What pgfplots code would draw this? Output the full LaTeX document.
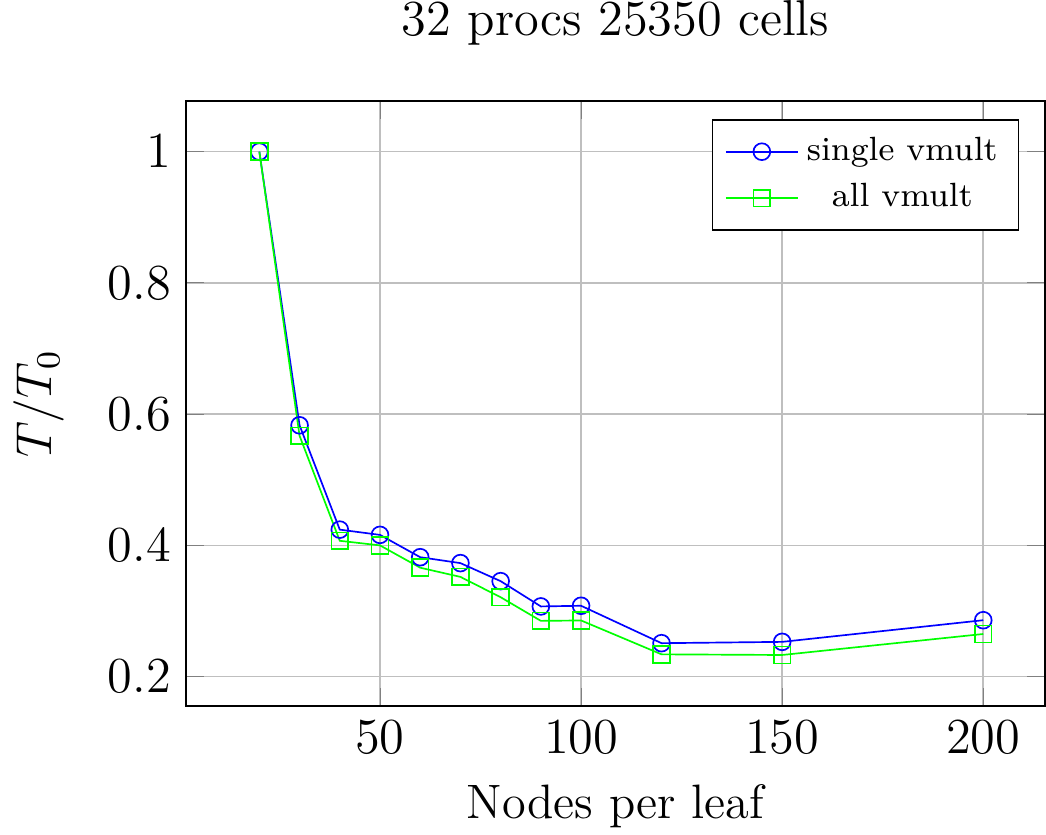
\documentclass[border=0pt]{standalone}
\usepackage{pgfplots}
\pgfplotsset{compat=1.18}
\begin{document}
\begin{tikzpicture}
\begin{axis}[
  scale only axis,
  width=204.5pt, height=144pt,
  xmin=1.74, xmax=215.4, ymin=0.155, ymax=1.077,
  xtick={50,100,150,200},
  ytick={0.2,0.4,0.6,0.8,1},
  grid=major,
  title={32 procs 25350 cells},
  title style={font=\fontsize{12}{14}\selectfont, inner sep=0pt, yshift=7.2pt},
  xlabel={Nodes per leaf},
  ylabel={$T/T_0$},
  ticklabel style={font=\fontsize{12}{14}\selectfont},
  label style={font=\fontsize{11.5}{14}\selectfont},
  xlabel style={inner sep=1.5pt, yshift=-2.3pt},
  ylabel style={yshift=3.5pt},
  legend pos=north east,
  legend cell align=center,
  legend style={font=\fontsize{8}{9.5}\selectfont},
]
\addplot[blue, mark=o] coordinates {
(20,1) (30,0.583) (40,0.424) (50,0.416) (60,0.382) (70,0.373) (80,0.3455) (90,0.307) (100,0.308) (120,0.251) (150,0.253) (200,0.286)
};
\addlegendentry{single vmult}
\addplot[green, mark=square] coordinates {
(20,1) (30,0.567) (40,0.407) (50,0.400) (60,0.366) (70,0.352) (80,0.321) (90,0.285) (100,0.2856) (120,0.234) (150,0.233) (200,0.265)
};
\addlegendentry{all vmult}
\end{axis}
\end{tikzpicture}
\end{document}
